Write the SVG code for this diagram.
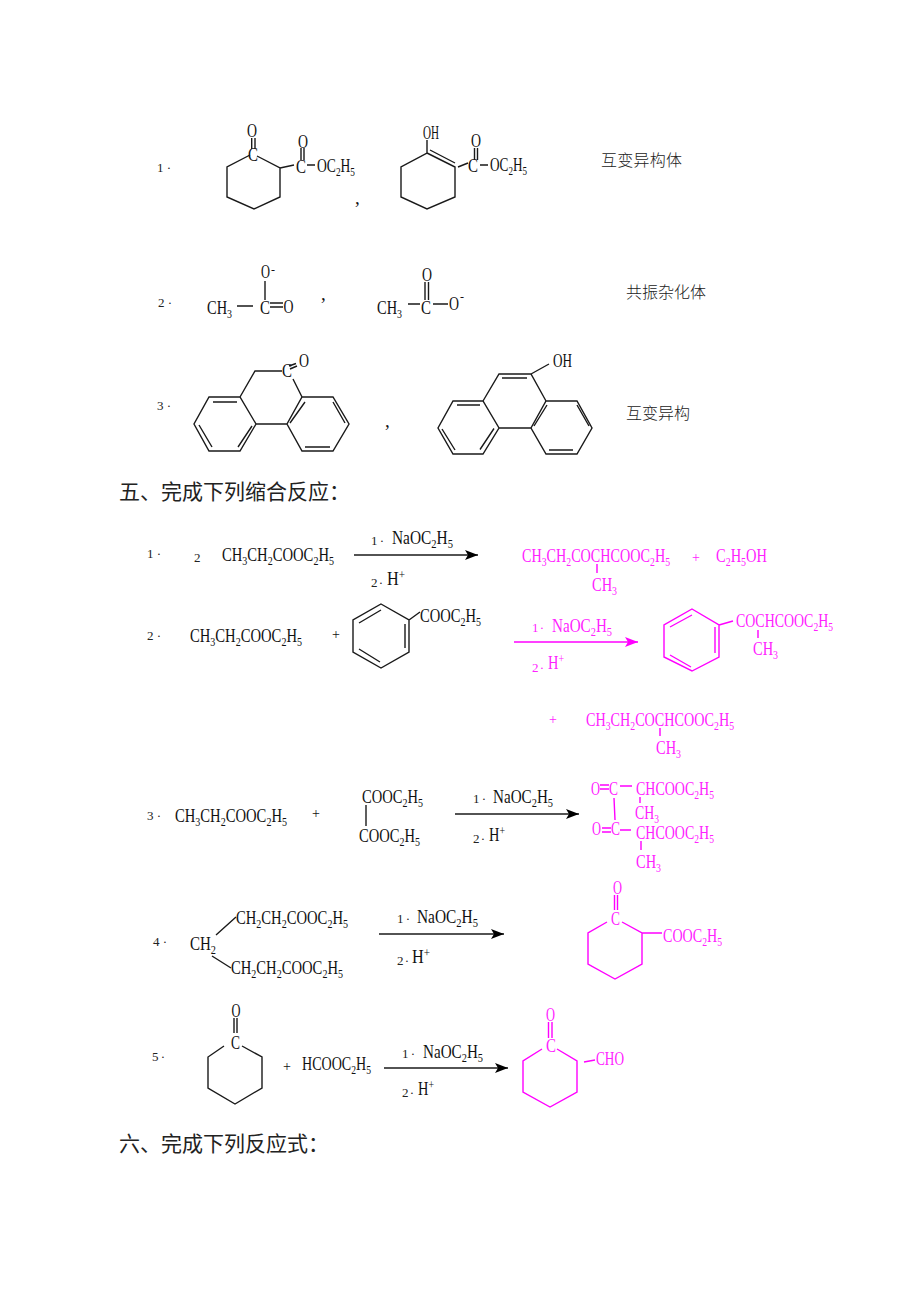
<svg xmlns="http://www.w3.org/2000/svg" width="920" height="1302" viewBox="0 0 920 1302">
<style>
text{font-family:"Liberation Serif","Noto Sans CJK SC",serif;fill:#111}
.f{font-size:19px}
.n{font-size:13px;fill:#222}
.cn{font-family:"Noto Sans CJK SC",sans-serif;font-size:16px;font-weight:300;fill:#222}
.h{font-family:"Noto Sans CJK SC",sans-serif;font-size:21px;font-weight:400;fill:#222}
.l{fill:none;stroke:#1a1a1a;stroke-width:1.4}
.m text{fill:#ff22ff}
.m .l{stroke:#ff00ff}
</style>
<defs>
<marker id="ak" markerUnits="userSpaceOnUse" markerWidth="14" markerHeight="10" refX="13" refY="5" orient="auto"><path d="M0 0L13 5L0 10L3 5Z" fill="#000"/></marker>
<marker id="am" markerUnits="userSpaceOnUse" markerWidth="14" markerHeight="10" refX="13" refY="5" orient="auto"><path d="M0 0L13 5L0 10L3 5Z" fill="#ff00ff"/></marker>
</defs>
<rect width="920" height="1302" fill="#fff"/>

<g id="item-1">
<text class="n" x="157" y="172" textLength="14">1·</text>
<text class="f" x="247" y="137" textLength="10" lengthAdjust="spacingAndGlyphs">O</text><text class="f" x="248" y="161" textLength="10" lengthAdjust="spacingAndGlyphs">C</text>
<path class="l" d="M251.700 138V149M255 138V149M250 155L227 167V197L254 209L280 197V168L257 156M280 168L294 165"/>
<text class="f" x="296" y="173" textLength="10" lengthAdjust="spacingAndGlyphs">C</text><text class="f" x="298" y="148" textLength="10" lengthAdjust="spacingAndGlyphs">O</text>
<path class="l" d="M301 148V160M304 148V160M307 165H315"/>
<text class="f" x="317" y="172" textLength="38" lengthAdjust="spacingAndGlyphs">OC<tspan font-size="13" dy="4">2</tspan><tspan dy="-4">H</tspan><tspan font-size="13" dy="4">5</tspan></text>
<text class="f" x="355" y="204">,</text>
<text class="f" x="423" y="139" textLength="16" lengthAdjust="spacingAndGlyphs">OH</text>
<path class="l" d="M427 140V153L401 167V197L427 209L455 197V167L427 153M430 150L455 163M458 167L468 163"/>
<text class="f" x="468" y="172" textLength="10" lengthAdjust="spacingAndGlyphs">C</text><text class="f" x="471" y="147" textLength="10" lengthAdjust="spacingAndGlyphs">O</text>
<path class="l" d="M474.500 148V160M477.500 148V160M480 165H488"/>
<text class="f" x="490" y="171" textLength="37" lengthAdjust="spacingAndGlyphs">OC<tspan font-size="13" dy="4">2</tspan><tspan dy="-4">H</tspan><tspan font-size="13" dy="4">5</tspan></text>
<text class="cn" x="601" y="165.500" textLength="81">互变异构体</text>
</g>

<g id="item-2">
<text class="n" x="158" y="307" textLength="14">2·</text>
<text class="f" x="207" y="314" textLength="25" lengthAdjust="spacingAndGlyphs">CH<tspan font-size="13" dy="4">3</tspan></text>
<path class="l" d="M237 306H253M265 281V300M270 303H283M270 307H283"/>
<text class="f" x="260" y="314" textLength="10" lengthAdjust="spacingAndGlyphs">C</text><text class="f" x="283.500" y="313" textLength="10" lengthAdjust="spacingAndGlyphs">O</text>
<text class="f" x="261" y="278" textLength="9" lengthAdjust="spacingAndGlyphs">O</text><text x="271" y="274" style="font-size:12px">-</text>
<text class="f" x="321" y="300">,</text>
<text class="f" x="377" y="314" textLength="25" lengthAdjust="spacingAndGlyphs">CH<tspan font-size="13" dy="4">3</tspan></text>
<path class="l" d="M408 304H420M425 282V300M428.500 282V300M433 304H448"/>
<text class="f" x="421" y="314" textLength="10" lengthAdjust="spacingAndGlyphs">C</text><text class="f" x="422" y="281" textLength="10" lengthAdjust="spacingAndGlyphs">O</text>
<text class="f" x="449" y="310" textLength="10" lengthAdjust="spacingAndGlyphs">O</text><text x="460" y="301" style="font-size:12px">-</text>
<text class="cn" x="626" y="297.500" textLength="80">共振杂化体</text>
</g>

<g id="item-3">
<text class="n" x="157" y="410" textLength="14">3·</text>
<path class="l" d="M209 397H240L256 424L240 451H209L194 424ZM213 402H237M199 425L212 447M238 447L252 426M256 424H287M302 397H333L349 424L333 451H302L287 424ZM333 402L345 423M305 447H330M290 423L305 402M240 397L255 371H282M293 379L302 397M289 366L296 363.500M290 369L297 366"/>
<text class="f" x="282" y="377" textLength="10" lengthAdjust="spacingAndGlyphs">C</text><text class="f" x="299" y="367" textLength="10" lengthAdjust="spacingAndGlyphs">O</text>
<text class="f" x="385" y="427">,</text>
<path class="l" d="M453 401H483L499 428L483 454H453L438 428ZM457 405H480M442 429L455 450M480 449.500L494 428.500M499 428H531M546 401H577L592 428L577 454H546L531 428ZM577 405L589 426M549 450H573M534 426L547 405M483 401L499 374H531L546 401M502 378H527M531 374L549 364"/>
<text class="f" x="553" y="367" textLength="19" lengthAdjust="spacingAndGlyphs">OH</text>
<text class="cn" x="626" y="418.500" textLength="64">互变异构</text>
</g>

<text class="h" x="119" y="499">五、完成下列缩合反应：</text>

<g id="reaction-1">
<text class="n" x="147" y="558" textLength="14">1·</text>
<text class="n" x="194" y="562">2</text>
<text class="f" x="222" y="561" textLength="112" lengthAdjust="spacingAndGlyphs">CH<tspan font-size="13" dy="4">3</tspan><tspan dy="-4">CH</tspan><tspan font-size="13" dy="4">2</tspan><tspan dy="-4">COOC</tspan><tspan font-size="13" dy="4">2</tspan><tspan dy="-4">H</tspan><tspan font-size="13" dy="4">5</tspan></text>
<text class="n" x="371" y="545" textLength="13">1·</text>
<text class="f" x="392" y="544" textLength="61" lengthAdjust="spacingAndGlyphs">NaOC<tspan font-size="13" dy="4">2</tspan><tspan dy="-4">H</tspan><tspan font-size="13" dy="4">5</tspan></text>
<path class="l" d="M354 555H478" marker-end="url(#ak)"/>
<text class="n" x="371" y="587" textLength="12">2·</text>
<text class="f" x="387" y="585" textLength="18" lengthAdjust="spacingAndGlyphs">H<tspan font-size="13" dy="-6">+</tspan></text>
</g>
<g id="product-1" class="m">
<text class="f" x="522" y="562" textLength="148" lengthAdjust="spacingAndGlyphs">CH<tspan font-size="13" dy="4">3</tspan><tspan dy="-4">CH</tspan><tspan font-size="13" dy="4">2</tspan><tspan dy="-4">COCHCOOC</tspan><tspan font-size="13" dy="4">2</tspan><tspan dy="-4">H</tspan><tspan font-size="13" dy="4">5</tspan></text>
<path class="l" d="M597 564V573"/>
<text class="f" x="592" y="591" textLength="25" lengthAdjust="spacingAndGlyphs">CH<tspan font-size="13" dy="4">3</tspan></text>
<text x="692" y="562" style="font-size:14px">+</text>
<text class="f" x="716" y="562" textLength="51" lengthAdjust="spacingAndGlyphs">C<tspan font-size="13" dy="4">2</tspan><tspan dy="-4">H</tspan><tspan font-size="13" dy="4">5</tspan><tspan dy="-4">OH</tspan></text>
</g>

<g id="reaction-2">
<text class="n" x="147" y="640" textLength="14">2·</text>
<text class="f" x="190" y="642" textLength="112" lengthAdjust="spacingAndGlyphs">CH<tspan font-size="13" dy="4">3</tspan><tspan dy="-4">CH</tspan><tspan font-size="13" dy="4">2</tspan><tspan dy="-4">COOC</tspan><tspan font-size="13" dy="4">2</tspan><tspan dy="-4">H</tspan><tspan font-size="13" dy="4">5</tspan></text>
<text x="332" y="639" style="font-size:14px">+</text>
<path class="l" d="M381 604L409 620V652L381 668L353 652V620ZM381 610L359 623M405 624V648M359 649L380 662M409 620L420 612"/>
<text class="f" x="420" y="622" textLength="61" lengthAdjust="spacingAndGlyphs">COOC<tspan font-size="13" dy="4">2</tspan><tspan dy="-4">H</tspan><tspan font-size="13" dy="4">5</tspan></text>
</g>
<g id="product-2" class="m">
<text class="n" x="532" y="632" textLength="12" style="fill:#ff22ff">1·</text>
<text class="f" x="552" y="632" textLength="60" lengthAdjust="spacingAndGlyphs">NaOC<tspan font-size="13" dy="4">2</tspan><tspan dy="-4">H</tspan><tspan font-size="13" dy="4">5</tspan></text>
<path class="l" d="M514 642H638" marker-end="url(#am)"/>
<text class="n" x="532" y="672" textLength="12" style="fill:#ff22ff">2·</text>
<text class="f" x="548" y="669" textLength="16" lengthAdjust="spacingAndGlyphs">H<tspan font-size="13" dy="-6">+</tspan></text>
<path class="l" d="M692 609L719 625V657L692 671L664 657V625ZM692 615L670 627M715 627V653M670 655L691 667M719 625L733 621M758 630V638M660 728V736"/>
<text class="f" x="736" y="627" textLength="97" lengthAdjust="spacingAndGlyphs">COCHCOOC<tspan font-size="13" dy="4">2</tspan><tspan dy="-4">H</tspan><tspan font-size="13" dy="4">5</tspan></text>
<text class="f" x="753" y="655" textLength="25" lengthAdjust="spacingAndGlyphs">CH<tspan font-size="13" dy="4">3</tspan></text>
<text x="549" y="724" style="font-size:14px">+</text>
<text class="f" x="586" y="726" textLength="148" lengthAdjust="spacingAndGlyphs">CH<tspan font-size="13" dy="4">3</tspan><tspan dy="-4">CH</tspan><tspan font-size="13" dy="4">2</tspan><tspan dy="-4">COCHCOOC</tspan><tspan font-size="13" dy="4">2</tspan><tspan dy="-4">H</tspan><tspan font-size="13" dy="4">5</tspan></text>
<text class="f" x="656" y="754" textLength="25" lengthAdjust="spacingAndGlyphs">CH<tspan font-size="13" dy="4">3</tspan></text>
</g>

<g id="reaction-3">
<text class="n" x="147" y="820" textLength="14">3·</text>
<text class="f" x="175" y="822" textLength="112" lengthAdjust="spacingAndGlyphs">CH<tspan font-size="13" dy="4">3</tspan><tspan dy="-4">CH</tspan><tspan font-size="13" dy="4">2</tspan><tspan dy="-4">COOC</tspan><tspan font-size="13" dy="4">2</tspan><tspan dy="-4">H</tspan><tspan font-size="13" dy="4">5</tspan></text>
<text x="312" y="818" style="font-size:14px">+</text>
<text class="f" x="362" y="803" textLength="61" lengthAdjust="spacingAndGlyphs">COOC<tspan font-size="13" dy="4">2</tspan><tspan dy="-4">H</tspan><tspan font-size="13" dy="4">5</tspan></text>
<path class="l" d="M366 805V826"/>
<text class="f" x="359" y="842" textLength="61" lengthAdjust="spacingAndGlyphs">COOC<tspan font-size="13" dy="4">2</tspan><tspan dy="-4">H</tspan><tspan font-size="13" dy="4">5</tspan></text>
<text class="n" x="473" y="803" textLength="13">1·</text>
<text class="f" x="493" y="803" textLength="60" lengthAdjust="spacingAndGlyphs">NaOC<tspan font-size="13" dy="4">2</tspan><tspan dy="-4">H</tspan><tspan font-size="13" dy="4">5</tspan></text>
<path class="l" d="M455 814H579" marker-end="url(#ak)"/>
<text class="n" x="473" y="843" textLength="12">2·</text>
<text class="f" x="489" y="841" textLength="16" lengthAdjust="spacingAndGlyphs">H<tspan font-size="13" dy="-6">+</tspan></text>
</g>
<g id="product-3" class="m">
<text class="f" x="591" y="795" textLength="9" lengthAdjust="spacingAndGlyphs">O</text><text class="f" x="609" y="795" textLength="9" lengthAdjust="spacingAndGlyphs">C</text>
<path class="l" d="M600 785H609M600 789H609M620 786H632M640 797V803M614 798L615 820"/>
<text class="f" x="636" y="795" textLength="78" lengthAdjust="spacingAndGlyphs">CHCOOC<tspan font-size="13" dy="4">2</tspan><tspan dy="-4">H</tspan><tspan font-size="13" dy="4">5</tspan></text>
<text class="f" x="635" y="819" textLength="24" lengthAdjust="spacingAndGlyphs">CH<tspan font-size="13" dy="4">3</tspan></text>
<text class="f" x="592" y="835" textLength="9" lengthAdjust="spacingAndGlyphs">O</text><text class="f" x="611" y="835" textLength="9" lengthAdjust="spacingAndGlyphs">C</text>
<path class="l" d="M602 828H611M602 832H611M620 830H631M641 841V850"/>
<text class="f" x="636" y="839" textLength="78" lengthAdjust="spacingAndGlyphs">CHCOOC<tspan font-size="13" dy="4">2</tspan><tspan dy="-4">H</tspan><tspan font-size="13" dy="4">5</tspan></text>
<text class="f" x="636" y="868" textLength="25" lengthAdjust="spacingAndGlyphs">CH<tspan font-size="13" dy="4">3</tspan></text>
</g>

<g id="reaction-4">
<text class="n" x="153" y="946" textLength="14">4·</text>
<text class="f" x="190" y="950" textLength="26" lengthAdjust="spacingAndGlyphs">CH<tspan font-size="13" dy="4">2</tspan></text>
<path class="l" d="M216 935L236 917M212 956L231 968"/>
<text class="f" x="236" y="924" textLength="112" lengthAdjust="spacingAndGlyphs">CH<tspan font-size="13" dy="4">2</tspan><tspan dy="-4">CH</tspan><tspan font-size="13" dy="4">2</tspan><tspan dy="-4">COOC</tspan><tspan font-size="13" dy="4">2</tspan><tspan dy="-4">H</tspan><tspan font-size="13" dy="4">5</tspan></text>
<text class="f" x="231" y="974" textLength="112" lengthAdjust="spacingAndGlyphs">CH<tspan font-size="13" dy="4">2</tspan><tspan dy="-4">CH</tspan><tspan font-size="13" dy="4">2</tspan><tspan dy="-4">COOC</tspan><tspan font-size="13" dy="4">2</tspan><tspan dy="-4">H</tspan><tspan font-size="13" dy="4">5</tspan></text>
<text class="n" x="397" y="923" textLength="13">1·</text>
<text class="f" x="417" y="923" textLength="61" lengthAdjust="spacingAndGlyphs">NaOC<tspan font-size="13" dy="4">2</tspan><tspan dy="-4">H</tspan><tspan font-size="13" dy="4">5</tspan></text>
<path class="l" d="M379 934H504" marker-end="url(#ak)"/>
<text class="n" x="397" y="965" textLength="12">2·</text>
<text class="f" x="412" y="963" textLength="18" lengthAdjust="spacingAndGlyphs">H<tspan font-size="13" dy="-6">+</tspan></text>
</g>
<g id="product-4" class="m">
<text class="f" x="613" y="894" textLength="9" lengthAdjust="spacingAndGlyphs">O</text><text class="f" x="611" y="925" textLength="9" lengthAdjust="spacingAndGlyphs">C</text>
<path class="l" d="M614.500 895V910M617.500 895V910M607 922L588 933V964L615 979L642 964V933L622 922M642 933H662"/>
<text class="f" x="663" y="942" textLength="59" lengthAdjust="spacingAndGlyphs">COOC<tspan font-size="13" dy="4">2</tspan><tspan dy="-4">H</tspan><tspan font-size="13" dy="4">5</tspan></text>
</g>

<g id="reaction-5">
<text class="n" x="152" y="1061" textLength="13">5·</text>
<text class="f" x="231.500" y="1017" textLength="9" lengthAdjust="spacingAndGlyphs">O</text><text class="f" x="231" y="1049" textLength="9" lengthAdjust="spacingAndGlyphs">C</text>
<path class="l" d="M234 1018V1033M237 1018V1033M224 1046L208 1057V1088L235 1104L262 1088V1057L242 1046"/>
<text x="283" y="1071" style="font-size:14px">+</text>
<text class="f" x="302" y="1070" textLength="69" lengthAdjust="spacingAndGlyphs">HCOOC<tspan font-size="13" dy="4">2</tspan><tspan dy="-4">H</tspan><tspan font-size="13" dy="4">5</tspan></text>
<text class="n" x="402" y="1058" textLength="13">1·</text>
<text class="f" x="423" y="1058" textLength="60" lengthAdjust="spacingAndGlyphs">NaOC<tspan font-size="13" dy="4">2</tspan><tspan dy="-4">H</tspan><tspan font-size="13" dy="4">5</tspan></text>
<path class="l" d="M384 1068H508" marker-end="url(#ak)"/>
<text class="n" x="402" y="1097" textLength="12">2·</text>
<text class="f" x="418" y="1095" textLength="16" lengthAdjust="spacingAndGlyphs">H<tspan font-size="13" dy="-6">+</tspan></text>
</g>
<g id="product-5" class="m">
<text class="f" x="546" y="1021" textLength="9" lengthAdjust="spacingAndGlyphs">O</text><text class="f" x="546" y="1052" textLength="10" lengthAdjust="spacingAndGlyphs">C</text>
<path class="l" d="M548.500 1022V1038M552 1022V1038M542 1049L523 1061V1092L550 1107L577 1092V1061L557 1049M584 1062L595 1060"/>
<text class="f" x="596" y="1065" textLength="28" lengthAdjust="spacingAndGlyphs">CHO</text>
</g>

<text class="h" x="119" y="1151">六、完成下列反应式：</text>
</svg>
